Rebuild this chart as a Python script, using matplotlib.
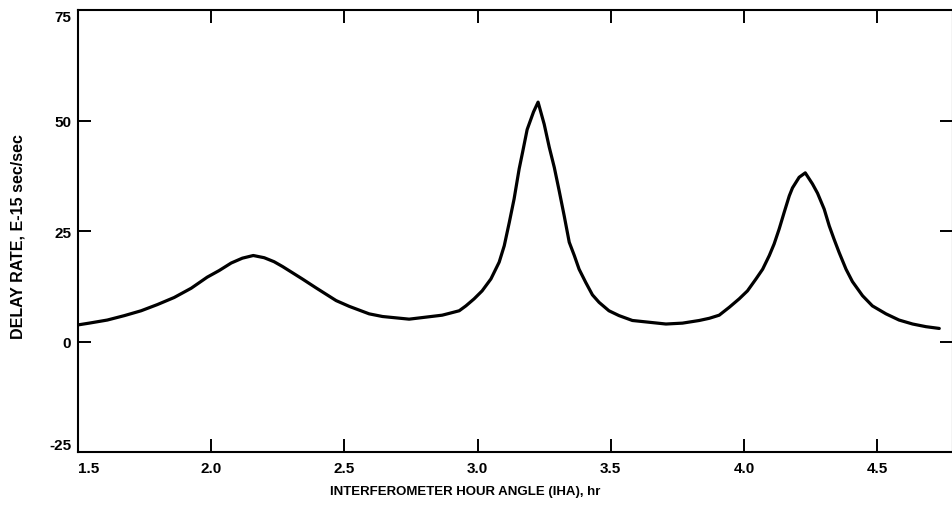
import matplotlib
matplotlib.use("Agg")
import matplotlib.pyplot as plt

# Data
iha_hr = [1.500, 1.542, 1.610, 1.674, 1.737, 1.798, 1.861, 1.925, 1.985, 2.030,
          2.075, 2.117, 2.158, 2.199, 2.236, 2.268, 2.342, 2.393, 2.469, 2.518,
          2.593, 2.643, 2.743, 2.867, 2.893, 2.931, 2.956, 2.987, 3.017, 3.050,
          3.081, 3.100, 3.119, 3.137, 3.156, 3.169, 3.186, 3.210, 3.227, 3.250,
          3.269, 3.288, 3.306, 3.325, 3.344, 3.363, 3.381, 3.406, 3.431, 3.456,
          3.493, 3.531, 3.581, 3.644, 3.707, 3.769, 3.832, 3.870, 3.907, 3.945,
          3.982, 4.013, 4.045, 4.070, 4.095, 4.113, 4.132, 4.151, 4.170, 4.182,
          4.207, 4.230, 4.257, 4.276, 4.301, 4.320, 4.338, 4.357, 4.383, 4.407,
          4.445, 4.482, 4.533, 4.582, 4.633, 4.683, 4.733]
delay_rate = [3.8, 4.2, 4.9, 5.9, 7.0, 8.4, 10.0, 12.1, 14.6, 16.1,
              17.8, 18.9, 19.5, 19.0, 18.1, 17.0, 14.2, 12.2, 9.3, 8.0,
              6.3, 5.7, 5.1, 6.0, 6.4, 7.0, 8.1, 9.7, 11.5, 14.2,
              18.0, 21.7, 27.0, 32.3, 39.1, 42.9, 48.0, 52.0, 54.2, 49.2,
              44.0, 39.4, 34.2, 28.5, 22.5, 19.5, 16.4, 13.4, 10.6, 8.9,
              7.0, 5.9, 4.8, 4.4, 4.0, 4.2, 4.8, 5.3, 6.0, 7.8,
              9.7, 11.5, 14.2, 16.4, 19.5, 22.1, 25.5, 29.3, 33.0, 34.8,
              37.2, 38.2, 35.7, 33.6, 30.0, 26.2, 23.2, 20.2, 16.4, 13.6,
              10.4, 8.1, 6.3, 4.9, 4.0, 3.4, 3.0]

x_ticks = [1.5, 2.0, 2.5, 3.0, 3.5, 4.0, 4.5]
x_tick_labels = ["1.5", "2.0", "2.5", "3.0", "3.5", "4.0", "4.5"]
y_ticks = [-25, 0, 25, 50, 75]
y_tick_labels = ["-25", "0", "25", "50", "75"]

plt.rcParams['font.family'] = ['Liberation Sans', 'DejaVu Sans']

W, H = 952, 510
fig = plt.figure(figsize=(W / 100, H / 100), dpi=100)

left_px, right_px = 78.0, 953.0
top_px, bottom_px = 11.2, 453.2
ax = fig.add_axes([left_px / W, 1 - bottom_px / H,
                   (right_px - left_px) / W, (bottom_px - top_px) / H])

ax.plot(iha_hr, delay_rate, color='black', lw=2.3,
        solid_joinstyle='round', solid_capstyle='round')

ax.set_xlim(1.5, 1.5 + (right_px - left_px) / 266.4)
ax.set_ylim(-25, 75)

ax.set_xticks(x_ticks)
ax.set_xticklabels(x_tick_labels)
ax.set_yticks(y_ticks)
ax.set_yticklabels(y_tick_labels)

ax.tick_params(axis='both', direction='in', length=9.5, width=1.4,
               top=True, right=True, labelsize=11, pad=5)
ax.tick_params(axis='x', pad=6)
for lbl in ax.get_xticklabels() + ax.get_yticklabels():
    lbl.set_fontweight('bold')

ax.get_xticklabels()[0].set_ha('left')
ax.get_yticklabels()[0].set_va('bottom')
ax.get_yticklabels()[-1].set_va('top')

for s in ax.spines.values():
    s.set_linewidth(1.5)

fig.text(465 / W, 1 - 492 / H, "INTERFEROMETER HOUR ANGLE (IHA), hr",
         ha='center', va='center', fontsize=9.5, fontweight='bold')
fig.text(18 / W, 1 - 237 / H, "DELAY RATE, E-15 sec/sec",
         ha='center', va='center', rotation=90, fontsize=11.5, fontweight='bold')

fig.savefig("out.png", dpi=100)
